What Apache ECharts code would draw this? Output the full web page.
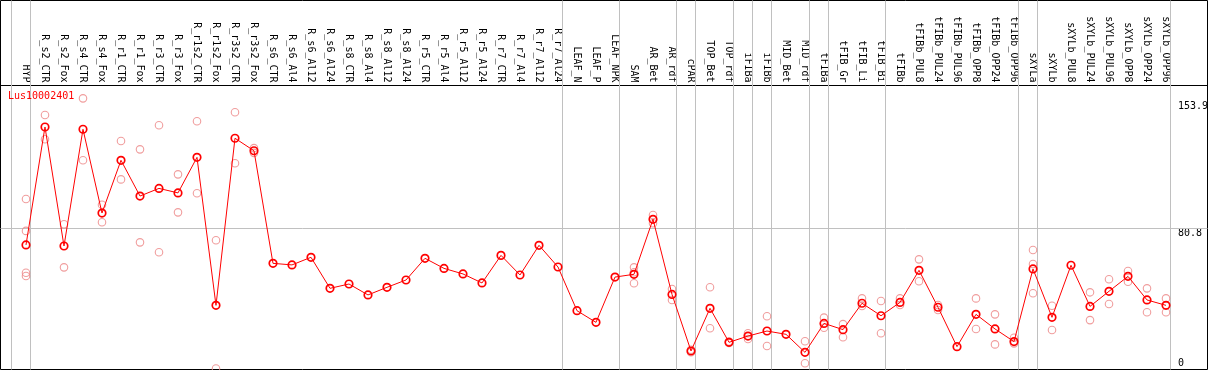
<!DOCTYPE html>
<html><head><meta charset="utf-8">
<script src="https://cdn.jsdelivr.net/npm/echarts@6/dist/echarts.min.js"></script>
<style>html,body{margin:0;padding:0;background:#fff}#c{width:1209px;height:370px}</style>
</head><body><div id="c"></div>
<script>
const geneName = 'Lus10002401';
const categories = ['HYP','R_s2_CTR','R_s2_Fox','R_s4_CTR','R_s4_Fox','R_r1_CTR','R_r1_Fox','R_r3_CTR','R_r3_Fox','R_r1s2_CTR','R_r1s2_Fox','R_r3s2_CTR','R_r3s2_Fox','R_s6_CTR','R_s6_Al4','R_s6_Al12','R_s6_Al24','R_s8_CTR','R_s8_Al4','R_s8_Al12','R_s8_Al24','R_r5_CTR','R_r5_Al4','R_r5_Al12','R_r5_Al24','R_r7_CTR','R_r7_Al4','R_r7_Al12','R_r7_Al24','LEAF_N','LEAF_P','LEAF_NPK','SAM','AR_Bet','AR_rdf','cPAR','TOP_Bet','TOP_rdf','iFIBa','iFIBb','MID_Bet','MID_rdf','tFIBa','tFIB_Gr','tFIB_Li','tFIB_Bi','tFIBb','tFIBb_PUL8','tFIBb_PUL24','tFIBb_PUL96','tFIBb_OPP8','tFIBb_OPP24','tFIBb_OPP96','sXYLa','sXYLb','sXYLb_PUL8','sXYLb_PUL24','sXYLb_PUL96','sXYLb_OPP8','sXYLb_OPP24','sXYLb_OPP96'];
const means = [71.2,139.2,70.6,137.9,89.6,120.0,99.4,103.8,101.2,121.7,36.4,132.7,125.5,60.6,59.7,64.1,46.2,48.7,42.4,46.8,51.0,63.5,57.7,54.5,49.3,65.2,53.9,71.0,58.5,33.3,26.6,52.7,54.3,86.0,42.7,10.1,34.7,15.1,18.7,21.6,19.7,9.3,26.0,22.4,37.6,30.4,38.1,56.6,35.3,12.6,31.2,22.8,15.5,57.4,29.5,59.5,35.8,44.5,53.1,39.5,36.4];
const replicates = [
  [97.7,79.3,55.2,53.3],[146.1,132.1],[83.1,58.3],[155.7,120.0],[94.4,84.3],[131.1,109.0],[126.3,72.7],[140.2,67.0],[111.9,90.0],[142.5,101.0],[73.9,0],[147.7,118.3],[127.0,124.3],
  [],[],[],[],[],[],[],[],[],[],[],[],[],[],[],[],[],[],[],
  [58.3,55.5,49.1],[88.5,83.7],[45.8,39.5],[10.8,9.4],[46.8,23.2],[15.5,14.7],[20.3,17.0],[30.1,13.0],[],[15.7,3.0],[29.3,23.5],[25.6,18.0],[40.4,36.0],[38.9,20.3],
  [40.4,36.6],[62.9,50.3],[36.6,33.7],[],[40.4,22.8],[31.2,13.9],[17.7,14.5],
  [68.3,60.2,43.4],[36.2,22.2],[],[43.9,27.9],[51.4,37.2],[56.2,50.0],[46.2,32.4],[40.4,32.4]
];
const groupEnds = [-1,0,28,31,34,35,37,38,39,41,42,45,52,53,60];
const yTickLabels = [80.8,153.9];
const yBaseLabel = [0];

const FONT = 'DejaVu Sans Mono';
const SEP_OFFSET = 0.237;
const xMin = -1.342, xMax = 62.184;
const yMin = -0.576, yMax = 212.1;

const meanData = means.map((v,i)=>[i,v]);
const repData = [];
replicates.forEach((arr,i)=>arr.forEach(v=>repData.push([i,v])));
const markData = [{yAxis: yTickLabels[0]}].concat(groupEnds.map(g=>({xAxis: g + SEP_OFFSET})));

const yLabelBase = {inside:true, margin:29.5, align:'left', fontFamily:FONT, fontSize:10, color:'#000',
  formatter: v => v === 0 ? '0' : Number(v).toFixed(1)};

const chart = echarts.init(document.getElementById('c'), null, {renderer:'canvas'});
chart.setOption({
  animation:false,
  title:{text:geneName,left:8,top:91,padding:0,textStyle:{color:'#ff0000',fontFamily:FONT,fontSize:10,fontWeight:'normal'}},
  grid:{left:0.5,top:0.5,width:1207,height:369,show:true,borderColor:'#000',borderWidth:1,backgroundColor:'transparent',containLabel:false,outerBoundsMode:'none'},
  xAxis:{type:'value',position:'top',offset:-85,min:xMin,max:xMax,
    axisLine:{show:true,onZero:false,lineStyle:{color:'#000',width:1}},
    axisTick:{show:false},splitLine:{show:false},
    axisLabel:{customValues:categories.map((c,i)=>i),formatter:v=>categories[Math.round(v)]||'',rotate:90,margin:3,fontFamily:FONT,fontSize:10,color:'#000',hideOverlap:false}},
  yAxis:[
    {type:'value',position:'right',min:yMin,max:yMax,axisLine:{show:false},axisTick:{show:false},splitLine:{show:false},
      axisLabel:Object.assign({},yLabelBase,{customValues:yTickLabels,verticalAlign:'top'})},
    {type:'value',position:'right',min:yMin,max:yMax,axisLine:{show:false},axisTick:{show:false},splitLine:{show:false},
      axisLabel:Object.assign({},yLabelBase,{customValues:yBaseLabel,verticalAlign:'bottom'})}
  ],
  series:[
    {type:'scatter',name:'replicates',data:repData,symbol:'circle',symbolSize:7.5,clip:false,z:2,silent:true,
      itemStyle:{color:'rgba(0,0,0,0)',borderColor:'#ec8484',borderWidth:1.1},
      markLine:{silent:true,symbol:['none','none'],label:{show:false},animation:false,z:1,
        lineStyle:{color:'#c0c0c0',width:1,type:'solid'},data:markData}},
    {type:'line',name:geneName,data:meanData,symbol:'circle',symbolSize:7.5,showAllSymbol:true,clip:false,z:3,silent:true,
      lineStyle:{color:'#ff0000',width:1},
      itemStyle:{color:'rgba(0,0,0,0)',borderColor:'#ff0000',borderWidth:1.7}}
  ]
});
</script></body></html>
